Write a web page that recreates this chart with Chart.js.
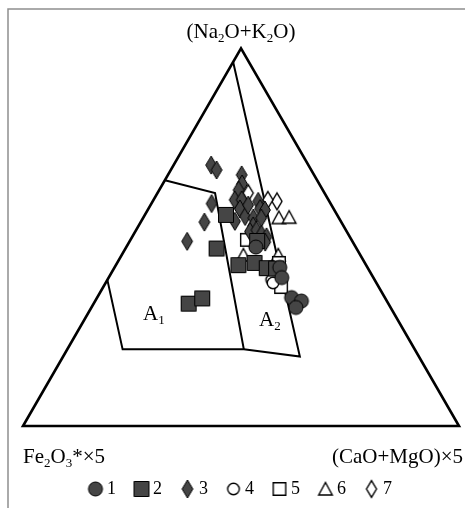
<!DOCTYPE html>
<html>
<head>
<meta charset="utf-8">
<script src="https://cdn.jsdelivr.net/npm/chart.js@4.4.0/dist/chart.umd.min.js"></script>
<style>
html, body { margin: 0; padding: 0; background: #fff; }
#wrap { width: 465px; height: 508px; }
</style>
</head>
<body>
<div id="wrap"><canvas id="ternChart" width="465" height="508"></canvas></div>
<script>
// compositions in % : [Na2O+K2O, Fe2O3*x5, (CaO+MgO)x5]
const seriesLabels = ['1', '2', '3', '4', '5', '6', '7'];

const group1 = [[47.4, 22.9, 29.7], [42.0, 20.1, 37.9], [39.3, 21.0, 39.7], [34.0, 21.4, 44.6],
    [33.1, 19.6, 47.3], [31.4, 21.7, 46.9]];
const group2 = [[55.9, 25.5, 18.6], [47.0, 32.1, 20.9], [42.6, 29.3, 28.1], [43.2, 25.3, 31.5],
    [41.8, 23.2, 35.0], [41.7, 21.1, 37.2], [32.4, 45.8, 21.8], [33.8, 42.0, 24.2], [49.0, 21.8, 29.2]];
const group3 = [[69.1, 22.3, 8.6], [67.8, 21.7, 10.5], [58.9, 27.3, 13.8], [54.0, 31.4, 14.6],
    [48.9, 37.9, 13.2], [66.5, 16.6, 16.9], [64.1, 17.7, 18.2], [62.5, 19.3, 18.2], [59.9, 21.5, 18.6],
    [59.9, 19.9, 20.2], [57.5, 21.5, 21.0], [54.2, 24.3, 21.5], [55.5, 21.3, 23.2], [55.1, 19.6, 25.3],
    [59.5, 16.3, 24.2], [57.6, 16.8, 25.6], [57.2, 15.9, 26.9], [55.1, 17.8, 27.1], [53.0, 20.7, 26.3],
    [51.5, 22.2, 26.3], [51.9, 20.5, 27.6], [50.8, 19.9, 29.3], [50.1, 19.1, 30.8], [48.7, 20.1, 31.2],
    [58.5, 19.1, 22.4]];
const group4 = [[38.7, 23.6, 37.7], [37.9, 23.7, 38.4]];
const group5 = [[49.3, 24.0, 26.7], [36.8, 22.4, 40.8], [43.2, 19.7, 37.1]];
const group6 = [[55.2, 13.7, 31.1], [55.3, 11.3, 33.4], [45.3, 26.8, 27.9], [45.3, 18.8, 35.9]];
const group7 = [[61.7, 17.5, 20.8], [59.5, 12.0, 28.5], [59.9, 13.9, 26.2]];

// field boundaries A1 / A2
const boundaryOuter = [[38.7, 61.3, 0], [20.3, 67.0, 12.7], [20.3, 39.2, 40.5], [18.4, 27.3, 54.3], [96.4, 3.6, 0]];
const boundaryInner = [[65.1, 34.9, 0], [61.7, 25.1, 13.2], [20.3, 39.2, 40.5]];
const triangleCorners = [[0, 100, 0], [0, 0, 100], [100, 0, 0], [0, 100, 0], [0, 0, 100]];

// ternary -> cartesian (side = 100)
function toXY(p) {
    return { x: p[2] + p[0] / 2, y: p[0] * Math.sqrt(3) / 2 };
}

const FILL = '#454545';

function marker(shape, filled) {
    const c = document.createElement('canvas');
    c.width = 22; c.height = 22;
    const g = c.getContext('2d');
    g.translate(11, 11);
    g.beginPath();
    if (shape === 'circle') {
        g.arc(0, 0, filled ? 7 : 5.8, 0, Math.PI * 2);
    } else if (shape === 'square') {
        const s = filled ? 7.5 : 6.3;
        g.rect(-s, -s, s * 2, s * 2);
    } else if (shape === 'diamond') {
        const h = filled ? 9 : 8.3, w = filled ? 5.4 : 5;
        g.moveTo(0, -h); g.lineTo(w, 0); g.lineTo(0, h); g.lineTo(-w, 0); g.closePath();
    } else if (shape === 'triangle') {
        g.moveTo(0, -6.5); g.lineTo(6.8, 6); g.lineTo(-6.8, 6); g.closePath();
    }
    g.fillStyle = filled ? FILL : '#fff';
    g.fill();
    g.lineWidth = filled ? 1 : 1.4;
    g.strokeStyle = '#000';
    g.stroke();
    return c;
}

const markerStyles = [
    marker('circle', true), marker('square', true), marker('diamond', true),
    marker('circle', false), marker('square', false), marker('triangle', false), marker('diamond', false)
];
const groups = [group1, group2, group3, group4, group5, group6, group7];

let datasets = groups.map((grp, i) => ({
    label: seriesLabels[i],
    data: grp.map(toXY),
    pointStyle: markerStyles[i],
    pointRadius: 8,
    pointHoverRadius: 8
}));

function lineSet(pts, width) {
    return {
        label: '',
        data: pts.map(toXY),
        showLine: true,
        pointRadius: 0,
        pointHoverRadius: 0,
        borderColor: '#000',
        borderWidth: width,
        borderJoinStyle: 'miter',
        fill: false
    };
}
datasets.push(lineSet(boundaryOuter, 2));
datasets.push(lineSet(boundaryInner, 2));
datasets.push(lineSet(triangleCorners, 2.6));

// pixel geometry of the picture
const PX = 4.36;          // px per % unit
const originX = 23, originY = 426;
const padLeft = 20, areaBottom = 457;

function drawRich(ctx, parts, x, y, align) {
    const main = '21px "Liberation Serif"', sub = '13px "Liberation Serif"';
    let w = 0;
    parts.forEach(p => { ctx.font = p[1] ? sub : main; w += ctx.measureText(p[0]).width; });
    let cx = align === 'center' ? x - w / 2 : (align === 'right' ? x - w : x);
    ctx.textAlign = 'left';
    ctx.textBaseline = 'alphabetic';
    ctx.fillStyle = '#000';
    parts.forEach(p => {
        ctx.font = p[1] ? sub : main;
        ctx.fillText(p[0], cx, p[1] ? y + 4 : y);
        cx += ctx.measureText(p[0]).width;
    });
}

const decorPlugin = {
    id: 'decor',
    beforeDraw(chart) {
        const ctx = chart.ctx;
        ctx.save();
        ctx.strokeStyle = '#8e8e8e';
        ctx.lineWidth = 1.5;
        ctx.beginPath();
        ctx.moveTo(8, 508); ctx.lineTo(8, 9); ctx.lineTo(465, 9);
        ctx.stroke();
        ctx.restore();
    },
    afterDraw(chart) {
        const ctx = chart.ctx;
        ctx.save();
        drawRich(ctx, [['(Na', 0], ['2', 1], ['O+K', 0], ['2', 1], ['O)', 0]], 241, 38, 'center');
        drawRich(ctx, [['Fe', 0], ['2', 1], ['O', 0], ['3', 1], ['*×5', 0]], 23, 463, 'left');
        drawRich(ctx, [['(CaO+MgO)×5', 0]], 463, 463, 'right');
        drawRich(ctx, [['A', 0], ['1', 1]], 143, 320, 'left');
        drawRich(ctx, [['A', 0], ['2', 1]], 259, 326, 'left');
        ctx.restore();
    }
};

new Chart(document.getElementById('ternChart'), {
    type: 'scatter',
    data: { datasets: datasets },
    options: {
        responsive: false,
        animation: false,
        events: [],
        layout: { padding: { left: padLeft }, autoPadding: false },
        scales: {
            x: { type: 'linear', display: false, min: -(originX - padLeft) / PX, max: (465 - originX) / PX },
            y: { type: 'linear', display: false, min: -(areaBottom - originY) / PX, max: originY / PX }
        },
        plugins: {
            legend: {
                position: 'bottom',
                labels: {
                    usePointStyle: true,
                    pointStyleWidth: 5,
                    padding: 23,
                    color: '#000',
                    font: { family: 'Liberation Serif', size: 18 },
                    filter: item => item.text !== ''
                }
            },
            tooltip: { enabled: false }
        }
    },
    plugins: [decorPlugin]
});
</script>
</body>
</html>
